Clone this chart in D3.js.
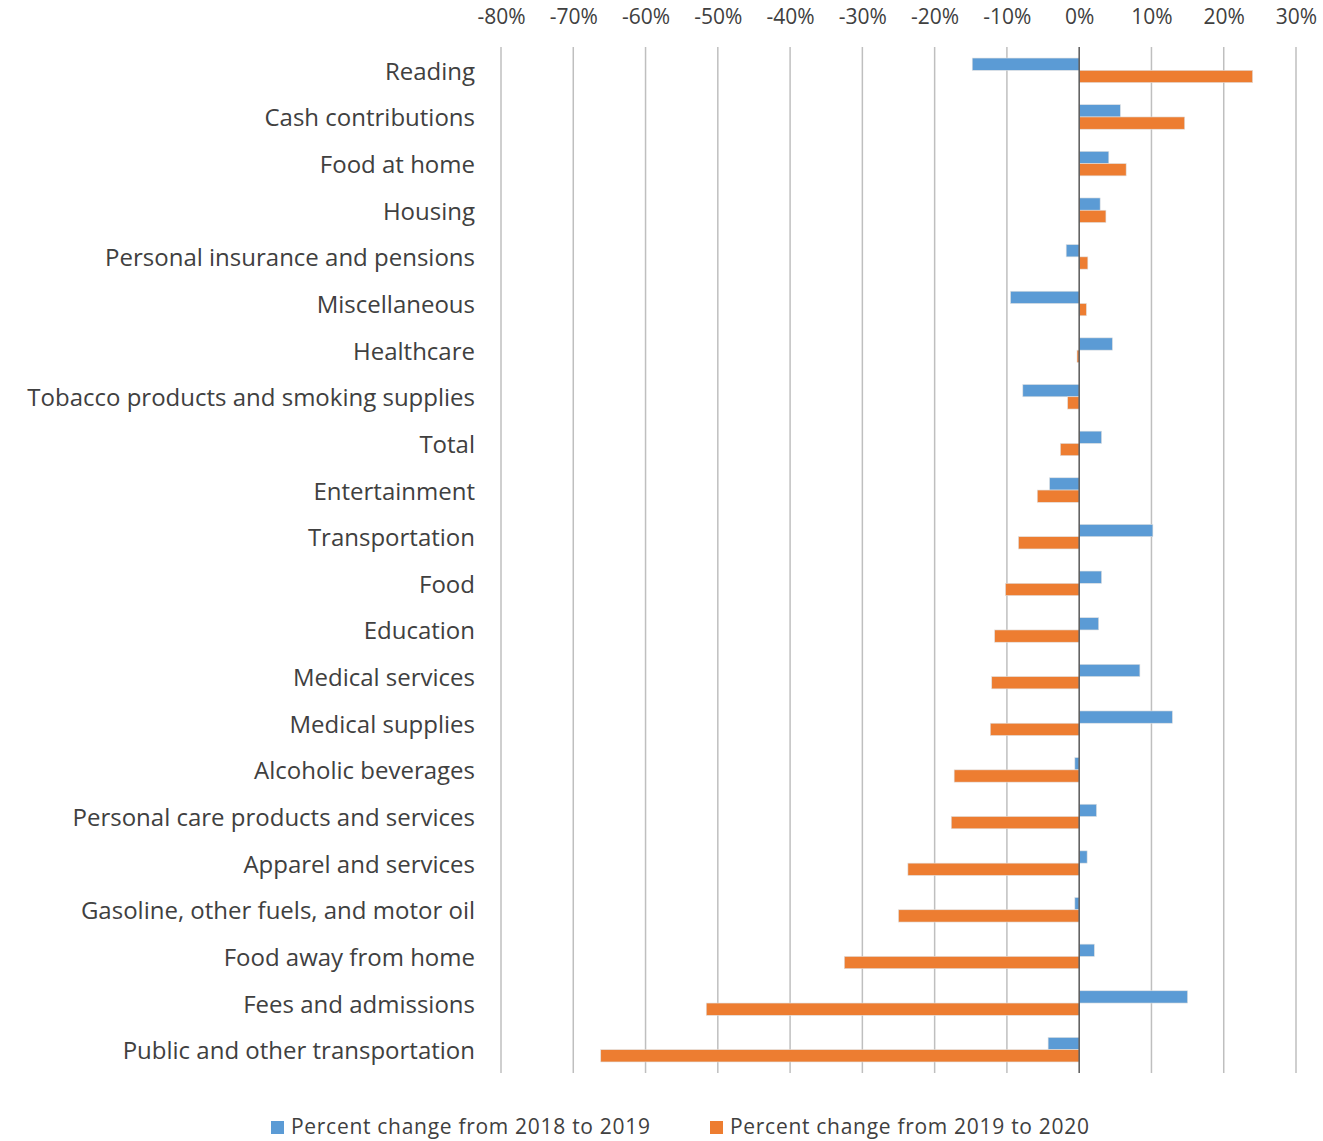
<!DOCTYPE html>
<html>
<head>
<meta charset="utf-8">
<script src="https://cdn.jsdelivr.net/npm/d3@7"></script>
<style>
  html, body { margin: 0; padding: 0; background: #fff; }
  svg { display: block; }
  text { font-family: "Open Sans", "Noto Sans", sans-serif; fill: #404040; }
</style>
</head>
<body>
<svg id="chart" width="1323" height="1141"></svg>
<script>
const categories = [
  "Reading", "Cash contributions", "Food at home", "Housing",
  "Personal insurance and pensions", "Miscellaneous", "Healthcare",
  "Tobacco products and smoking supplies", "Total", "Entertainment",
  "Transportation", "Food", "Education", "Medical services",
  "Medical supplies", "Alcoholic beverages", "Personal care products and services",
  "Apparel and services", "Gasoline, other fuels, and motor oil",
  "Food away from home", "Fees and admissions", "Public and other transportation"
];
const change2018to2019 = [
  -14.8, 5.7, 4.1, 2.9, -1.8, -9.5, 4.6, -7.8, 3.1, -4.1,
  10.2, 3.1, 2.7, 8.4, 12.9, -0.6, 2.4, 1.1, -0.6, 2.1, 15.0, -4.3
];
const change2019to2020 = [
  24.0, 14.6, 6.5, 3.7, 1.2, 1.0, -0.3, -1.6, -2.6, -5.8,
  -8.4, -10.2, -11.7, -12.1, -12.3, -17.3, -17.7, -23.7, -25.0, -32.5, -51.6, -66.2
];
const seriesNames = ["Percent change from 2018 to 2019", "Percent change from 2019 to 2020"];
const seriesColors = ["#5b9bd5", "#ed7d31"];
const tickValues = [-80, -70, -60, -50, -40, -30, -20, -10, 0, 10, 20, 30];

const svg = d3.select("#chart");
const plot = { left: 501, right: 1296, top: 47, bottom: 1073 };

const x = d3.scaleLinear().domain([-80, 30]).range([plot.left, plot.right]);
const y0 = d3.scaleBand().domain(categories).range([plot.top, plot.bottom]).padding(0);
const y1 = d3.scaleBand().domain(seriesNames).range([0, y0.bandwidth()])
  .paddingInner(0).paddingOuter(0.9);

// gridlines
svg.append("g")
  .selectAll("line").data(tickValues.filter(d => d !== 0)).join("line")
  .attr("x1", d => x(d)).attr("x2", d => x(d))
  .attr("y1", plot.top).attr("y2", plot.bottom)
  .attr("stroke", "#bfbfbf").attr("stroke-width", 1.5);

// top axis labels
const axis = d3.axisTop(x).tickValues(tickValues).tickFormat(d => d + "%").tickSize(0).tickPadding(0);
const ag = svg.append("g").attr("transform", "translate(0,24)").call(axis);
ag.select(".domain").remove();
ag.selectAll("text").style("font-size", "21px").style("font-family", "Open Sans, sans-serif").attr("fill", "#404040");

// bars
const data = [];
categories.forEach((c, i) => {
  data.push({ cat: c, s: seriesNames[0], v: change2018to2019[i], color: seriesColors[0] });
  data.push({ cat: c, s: seriesNames[1], v: change2019to2020[i], color: seriesColors[1] });
});
svg.append("g").selectAll("rect").data(data).join("rect")
  .attr("x", d => x(Math.min(0, d.v)))
  .attr("width", d => Math.abs(x(d.v) - x(0)))
  .attr("y", d => y0(d.cat) + y1(d.s))
  .attr("height", y1.bandwidth())
  .attr("fill", d => d.color)
  .attr("stroke", "#e0e0e0").attr("stroke-width", 0.6);

// zero line
svg.append("line")
  .attr("x1", x(0)).attr("x2", x(0))
  .attr("y1", plot.top).attr("y2", plot.bottom)
  .attr("stroke", "#595959").attr("stroke-width", 1.5);

// category labels
svg.append("g").selectAll("text").data(categories).join("text")
  .attr("x", 475)
  .attr("y", d => y0(d) + y0.bandwidth() / 2)
  .attr("text-anchor", "end")
  .attr("dominant-baseline", "central")
  .style("font-size", "24px")
  .text(d => d);

// legend
const legendItems = [
  { name: seriesNames[0], color: seriesColors[0], x: 271 },
  { name: seriesNames[1], color: seriesColors[1], x: 710 }
];
const lg = svg.append("g");
legendItems.forEach(it => {
  lg.append("rect").attr("x", it.x).attr("y", 1121).attr("width", 13).attr("height", 13).attr("fill", it.color);
  lg.append("text").attr("x", it.x + 20).attr("y", 1134)
    .attr("textLength", 359).attr("lengthAdjust", "spacing")
    .style("font-size", "21px").text(it.name);
});
</script>
</body>
</html>
